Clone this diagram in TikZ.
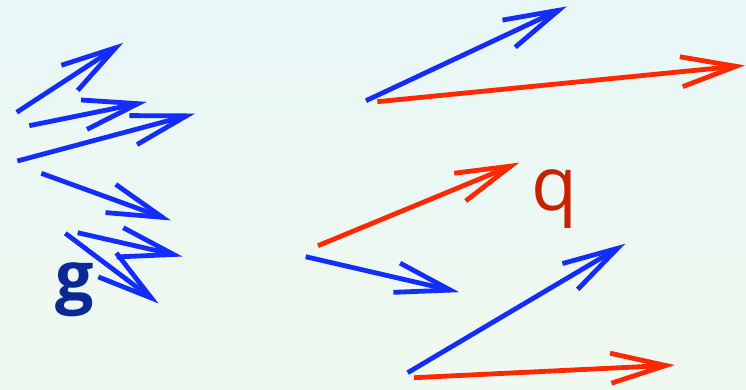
\documentclass[tikz,border=0pt]{standalone}
\usepackage{fontspec}
\newfontfamily\labelfont{Open Sans}

\tikzset{every picture/.style={line width=0.75pt}}
\tikzset{
  bluevec/.style={color={rgb, 255:red, 20; green, 45; blue, 255 }, line width=4.8},
  redvec/.style={color={rgb, 255:red, 255; green, 40; blue, 0 }, line width=4.8},
  vechead/.style={line join=miter},
}

\begin{document}
\begin{tikzpicture}[x=1pt,y=1pt,yscale=-1,xscale=1]
\useasboundingbox (0,0) rectangle (746,390);

%Shape: Rectangle [id:bg]
\shade [top color={rgb, 255:red, 232; green, 247; blue, 247 }, bottom color={rgb, 255:red, 240; green, 249; blue, 239 }] (0,0) rectangle (746,390) ;

%Straight Lines [id:g1]
\draw [bluevec]   (16.7,112.3) -- (115.6,47.8) ;
\draw [shift={(115.6,47.8)}, rotate = 146.9] [bluevec, vechead]   (55,-15) -- (0,0) -- (55,15)   ;
%Straight Lines [id:g2]
\draw [bluevec]   (29.3,125.7) -- (137.9,103.7) ;
\draw [shift={(137.9,103.7)}, rotate = 168.5] [bluevec, vechead]   (55,-15) -- (0,0) -- (55,15)   ;
%Straight Lines [id:g3]
\draw [bluevec]   (17.3,161) -- (186.3,115.9) ;
\draw [shift={(186.3,115.9)}, rotate = 165.05] [bluevec, vechead]   (55,-15) -- (0,0) -- (55,15)   ;
%Straight Lines [id:g4]
\draw [bluevec]   (41.3,173.3) -- (162.3,217.3) ;
\draw [shift={(162.3,217.3)}, rotate = 200] [bluevec, vechead]   (55,-15) -- (0,0) -- (55,15)   ;
%Straight Lines [id:g5]
\draw [bluevec]   (77.7,232.7) -- (173.6,254.5) ;
\draw [shift={(173.6,254.5)}, rotate = 192.8] [bluevec, vechead]   (55,-15) -- (0,0) -- (55,15)   ;
%Straight Lines [id:g6]
\draw [bluevec]   (65.3,233.3) -- (151.3,298) ;
\draw [shift={(151.3,298)}, rotate = 216.95] [bluevec, vechead]   (55,-15) -- (0,0) -- (55,15)   ;

%Straight Lines [id:q1]
\draw [bluevec]   (366,100.7) -- (558.6,10.3) ;
\draw [shift={(558.6,10.3)}, rotate = 154.85] [bluevec, vechead]   (55,-15) -- (0,0) -- (55,15)   ;
%Straight Lines [id:q2]
\draw [redvec]   (377.3,101.7) -- (736,66.3) ;
\draw [shift={(736,66.3)}, rotate = 174.36] [redvec, vechead]   (55,-15) -- (0,0) -- (55,15)   ;
%Straight Lines [id:q3]
\draw [redvec]   (318,245.7) -- (510.8,166.1) ;
\draw [shift={(510.8,166.1)}, rotate = 157.56] [redvec, vechead]   (55,-15) -- (0,0) -- (55,15)   ;
%Straight Lines [id:q4]
\draw [bluevec]   (305.7,256.7) -- (450.3,290.1) ;
\draw [shift={(450.3,290.1)}, rotate = 193] [bluevec, vechead]   (55,-15) -- (0,0) -- (55,15)   ;
%Straight Lines [id:q5]
\draw [bluevec]   (407.7,372.7) -- (617.4,248.4) ;
\draw [shift={(617.4,248.4)}, rotate = 149.34] [bluevec, vechead]   (55,-15) -- (0,0) -- (55,15)   ;
%Straight Lines [id:q6]
\draw [redvec]   (414,377.7) -- (665.7,365.5) ;
\draw [shift={(665.7,365.5)}, rotate = 177.22] [redvec, vechead]   (55,-15) -- (0,0) -- (55,15)   ;

% Text Node
\draw (74.5,300) node (glabel) [anchor=base] [inner sep=0.75pt, color={rgb, 255:red, 12; green, 40; blue, 150 }]   {\labelfont\bfseries\fontsize{68}{68}\selectfont g};
% Text Node
\draw (554,210) node (qlabel) [anchor=base] [inner sep=0.75pt, color={rgb, 255:red, 200; green, 35; blue, 0 }]   {\labelfont\fontsize{75}{75}\selectfont q};

\end{tikzpicture}
\end{document}
